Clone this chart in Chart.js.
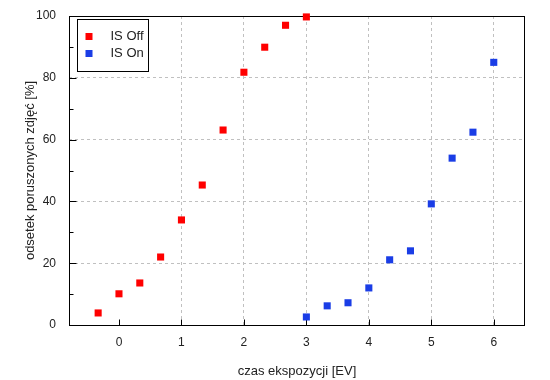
<!DOCTYPE html>
<html><head><meta charset="utf-8">
<script src="https://cdn.jsdelivr.net/npm/chart.js@4"></script>
<style>html,body{margin:0;padding:0;background:#fff}#wrap{width:550px;height:380px}</style>
</head><body><div id="wrap"><canvas id="c" width="550" height="380"></canvas></div>
<script>
// ---- data ----
const seriesNames = ['IS Off', 'IS On'];
const offX = [-1/3, 0, 1/3, 2/3, 1, 4/3, 5/3, 2, 7/3, 8/3, 3];
const offY = [3.9, 10.1, 13.6, 22.0, 34.0, 45.3, 63.1, 81.8, 89.9, 97.0, 99.7];
const onX = [3, 10/3, 11/3, 4, 13/3, 14/3, 5, 16/3, 17/3, 6];
const onY = [2.6, 6.2, 7.2, 12.0, 21.1, 24.0, 39.2, 54.0, 62.4, 85.0];
const xTicks = [0, 1, 2, 3, 4, 5, 6];
const yTicks = [0, 20, 40, 60, 80, 100];
const yMinorTicks = [10, 30, 50, 70, 90];
const xTitle = 'czas ekspozycji [EV]';
const yTitle = 'odsetek poruszonych zdjęć [%]';
const colors = ['#ff0000', '#1a3de6'];

const FONT = '"Liberation Sans", Arial, sans-serif';
const TXT = '#222';

const framePlugin = {
  id: 'frame',
  beforeDatasetsDraw(chart) {
    const {ctx, chartArea: a, scales: {x, y}} = chart;
    const L = Math.round(a.left) + 0.5, R = Math.round(a.right) - 0.5;
    const T = Math.round(a.top) + 0.5, B = Math.round(a.bottom) + 0.5;
    ctx.save();
    ctx.strokeStyle = '#000';
    ctx.lineWidth = 1;
    ctx.beginPath();
    xTicks.forEach(v => {
      const px = Math.round(x.getPixelForValue(v)) + 0.5;
      ctx.moveTo(px, B); ctx.lineTo(px, B - 6);
    });
    yTicks.forEach(v => {
      const py = Math.round(y.getPixelForValue(v)) + 0.5;
      ctx.moveTo(L, py); ctx.lineTo(L + 7, py);
    });
    yMinorTicks.forEach(v => {
      const py = Math.round(y.getPixelForValue(v)) + 0.5;
      ctx.moveTo(L, py); ctx.lineTo(L + 4, py);
    });
    ctx.stroke();
    ctx.strokeRect(L, T, R - L, B - T);
    ctx.restore();
  },
  afterDatasetsDraw(chart) {
    const {ctx, chartArea: a} = chart;
    const bx = Math.round(a.left) + 8.5, by = Math.round(a.top) + 3.5;
    const bw = 71, bh = 52;
    ctx.save();
    ctx.fillStyle = '#fff';
    ctx.fillRect(bx, by, bw, bh);
    ctx.strokeStyle = '#000';
    ctx.lineWidth = 1;
    ctx.strokeRect(bx, by, bw, bh);
    ctx.font = '13px ' + FONT;
    ctx.textBaseline = 'middle';
    ctx.textAlign = 'left';
    chart.data.datasets.forEach((ds, i) => {
      const cy = by + 17 + i * 17;
      ctx.fillStyle = ds.backgroundColor;
      ctx.fillRect(bx + 8, cy - 3.5, 7, 7);
      ctx.fillStyle = TXT;
      ctx.fillText(ds.label, bx + 33, cy);
    });
    ctx.restore();
  }
};

const gridColor = c => (c.tick && (c.tick.value === 0 || c.tick.value === 100)) ? 'rgba(0,0,0,0)' : '#c0c0c0';

new Chart(document.getElementById('c'), {
  type: 'scatter',
  data: {
    datasets: [
      { label: seriesNames[0], data: offX.map((v, i) => ({x: v, y: offY[i]})), backgroundColor: colors[0] },
      { label: seriesNames[1], data: onX.map((v, i) => ({x: v, y: onY[i]})), backgroundColor: colors[1] }
    ].map(d => Object.assign(d, { pointStyle: 'rect', pointRadius: 5, pointHoverRadius: 5, borderWidth: 0, showLine: false, clip: false }))
  },
  options: {
    responsive: false,
    animation: false,
    devicePixelRatio: 1,
    layout: { padding: { left: 0, right: 25, top: 16, bottom: 0 } },
    plugins: { legend: { display: false }, tooltip: { enabled: false } },
    scales: {
      x: {
        type: 'linear', min: -0.8, max: 6.5,
        afterBuildTicks: s => { s.ticks = xTicks.map(v => ({value: v})); },
        afterFit: s => { s.height = 55; s.paddingLeft = 0; s.paddingRight = 0; },
        grid: { color: gridColor, lineWidth: 1, drawTicks: false },
        border: { display: false, dash: [3, 3] },
        ticks: { padding: 10, color: TXT, font: { family: FONT, size: 12 }, maxRotation: 0 },
        title: { display: true, text: xTitle, color: TXT, font: { family: FONT, size: 13 }, padding: { top: 0, bottom: 1 } }
      },
      y: {
        type: 'linear', min: 0, max: 100,
        afterBuildTicks: s => { s.ticks = yTicks.map(v => ({value: v})); },
        afterFit: s => { s.width = 69; s.paddingTop = 0; s.paddingBottom = 0; },
        grid: { color: gridColor, lineWidth: 1, drawTicks: false },
        border: { display: false, dash: [3, 3] },
        ticks: { padding: 13, color: TXT, font: { family: FONT, size: 12 } },
        title: { display: true, text: yTitle, color: TXT, font: { family: FONT, size: 13 }, padding: { top: 23, bottom: 0 } }
      }
    }
  },
  plugins: [framePlugin]
});
</script>
</body></html>
